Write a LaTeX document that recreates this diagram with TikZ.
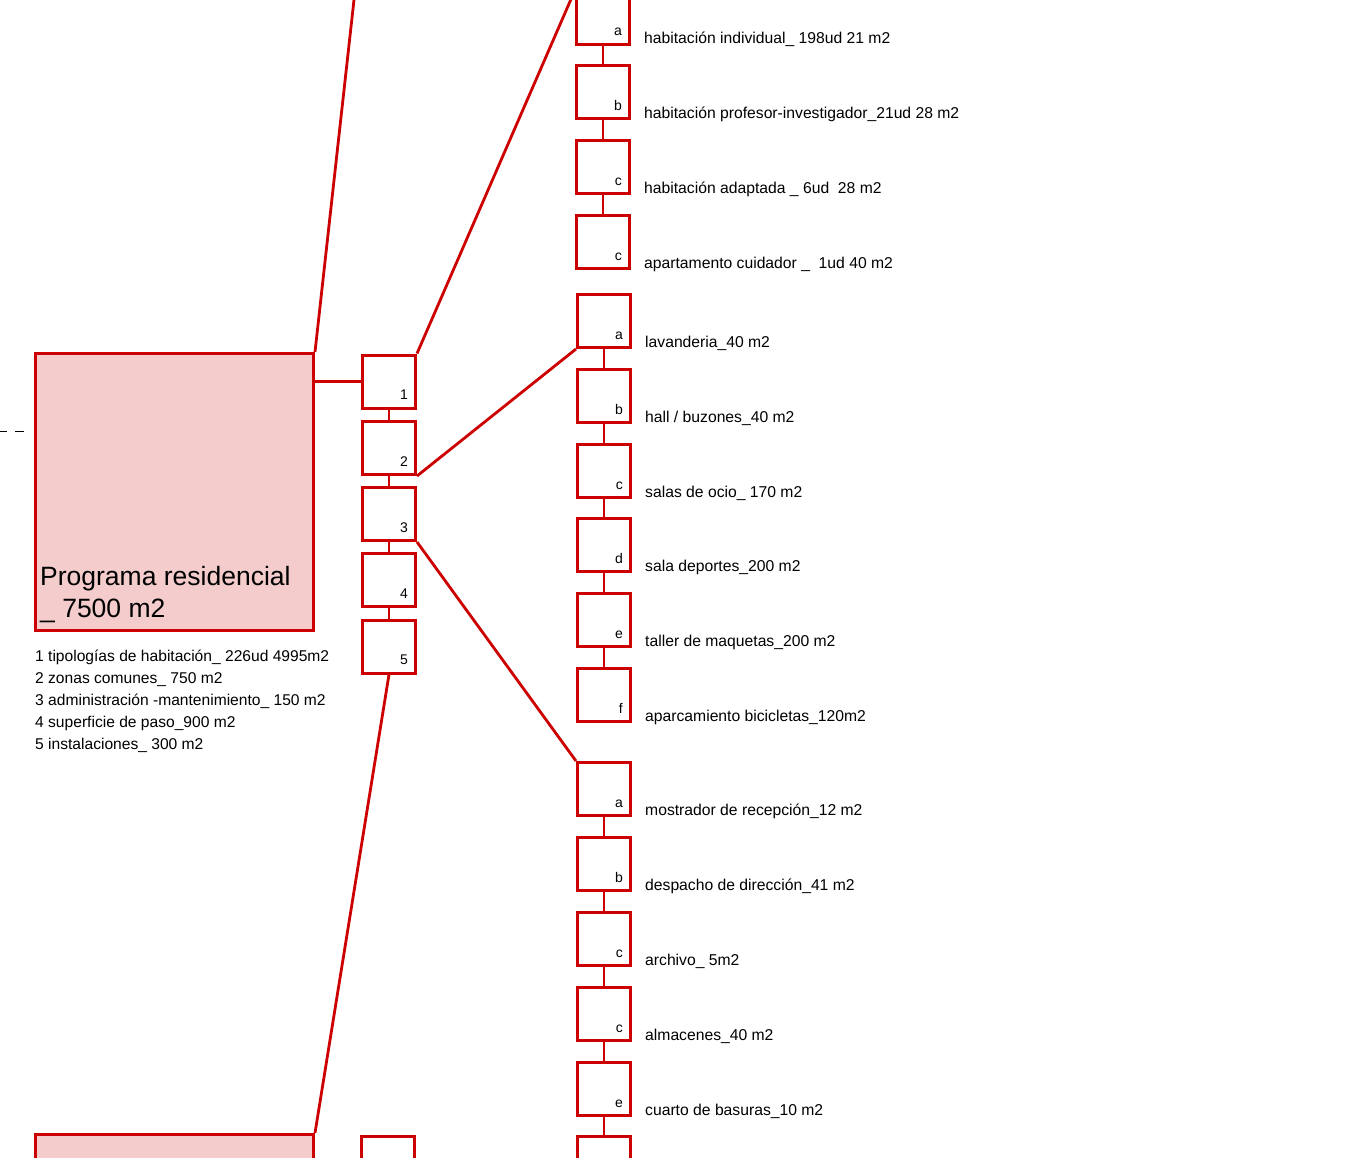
\documentclass[tikz,border=0pt]{standalone}
\usepackage{fontspec}
\setmainfont{Liberation Sans}
\definecolor{progred}{HTML}{CC0000}
\definecolor{progfill}{HTML}{F4CCCC}

\begin{document}
\begin{tikzpicture}[x=1pt, y=-1pt,
    box/.style={draw=progred, line width=3pt, fill=white, minimum size=53pt, inner sep=0pt},
    bigbox/.style={draw=progred, line width=3pt, fill=progfill, minimum width=278pt, minimum height=277pt, inner sep=0pt},
    link/.style={draw=progred, line width=2.8pt},
    tag/.style={anchor=base east, font=\fontsize{14}{16}\selectfont, inner sep=0pt, xshift=-9pt, yshift=10pt},
    item/.style={anchor=base west, font=\fontsize{15.7}{18}\selectfont, inner sep=0pt, xshift=13pt, yshift=2pt}]
    \useasboundingbox (0,0) rectangle (1372,1158);
    \clip (0,0) rectangle (1372,1158);

    % programme boxes
    \node[bigbox] (prog) at (174.5,492) {};
    \node[bigbox] (prog2) at (174.5,1273) {};
    \node[anchor=south west, align=left, inner sep=0pt, font=\fontsize{26.5}{32}\selectfont] (progtxt)
        at ([shift={(6,-9)}]prog.south west) {Programa residencial\\\_ 7500 m2};
    \node[anchor=north west, align=left, inner sep=0pt, font=\fontsize{15.6}{22}\selectfont] (legend)
        at ([shift={(1,18)}]prog.south west) {1 tipologías de habitación\_ 226ud 4995m2\\
        2 zonas comunes\_ 750 m2\\
        3 administración -mantenimiento\_ 150 m2\\
        4 superficie de paso\_900 m2\\
        5 instalaciones\_ 300 m2};
    \coordinate (progup) at (356.2,-20);
    \coordinate (dashin) at (-2,431);
    \draw[dash pattern=on 9pt off 8pt, line width=0.8pt, shorten >=6pt] (dashin) -- (dashin -| prog.west);

    % parts 1-5
    \node[box] (s1) at (389,381.5) {};
    \node[box] (s2) at (389,448) {};
    \node[box] (s3) at (389,514) {};
    \node[box] (s4) at (389,580) {};
    \node[box] (s5) at (389,646.5) {};
    \node[box] (s6) at (388,1163) {};
    \node[tag] (s1l) at (s1.south east) {1};
    \node[tag] (s2l) at (s2.south east) {2};
    \node[tag] (s3l) at (s3.south east) {3};
    \node[tag] (s4l) at (s4.south east) {4};
    \node[tag] (s5l) at (s5.south east) {5};

    % tipologias
    \node[box] (t1) at (603,18) {};
    \node[box] (t2) at (603,92.5) {};
    \node[box] (t3) at (603,167.5) {};
    \node[box] (t4) at (603,242) {};
    \node[tag] (t1l) at (t1.south east) {a};
    \node[tag] (t2l) at (t2.south east) {b};
    \node[tag] (t3l) at (t3.south east) {c};
    \node[tag] (t4l) at (t4.south east) {c};
    \node[item] (t1t) at (t1.south east) {habitación individual\_ 198ud 21 m2};
    \node[item] (t2t) at (t2.south east) {habitación profesor-investigador\_21ud 28 m2};
    \node[item] (t3t) at (t3.south east) {habitación adaptada \_ 6ud \ 28 m2};
    \node[item] (t4t) at (t4.south east) {apartamento cuidador \_ \ 1ud 40 m2};

    % zonas comunes
    \node[box] (z1) at (604,321) {};
    \node[box] (z2) at (604,396) {};
    \node[box] (z3) at (604,471) {};
    \node[box] (z4) at (604,545) {};
    \node[box] (z5) at (604,620) {};
    \node[box] (z6) at (604,695) {};
    \node[tag] (z1l) at (z1.south east) {a};
    \node[tag] (z2l) at (z2.south east) {b};
    \node[tag] (z3l) at (z3.south east) {c};
    \node[tag] (z4l) at (z4.south east) {d};
    \node[tag] (z5l) at (z5.south east) {e};
    \node[tag] (z6l) at (z6.south east) {f};
    \node[item] (z1t) at (z1.south east) {lavanderia\_40 m2};
    \node[item] (z2t) at (z2.south east) {hall / buzones\_40 m2};
    \node[item] (z3t) at (z3.south east) {salas de ocio\_ 170 m2};
    \node[item] (z4t) at (z4.south east) {sala deportes\_200 m2};
    \node[item] (z5t) at (z5.south east) {taller de maquetas\_200 m2};
    \node[item] (z6t) at (z6.south east) {aparcamiento bicicletas\_120m2};

    % administracion - mantenimiento
    \node[box] (m1) at (604,789) {};
    \node[box] (m2) at (604,864) {};
    \node[box] (m3) at (604,939) {};
    \node[box] (m4) at (604,1014) {};
    \node[box] (m5) at (604,1089) {};
    \node[box] (m6) at (604,1163) {};
    \node[tag] (m1l) at (m1.south east) {a};
    \node[tag] (m2l) at (m2.south east) {b};
    \node[tag] (m3l) at (m3.south east) {c};
    \node[tag] (m4l) at (m4.south east) {c};
    \node[tag] (m5l) at (m5.south east) {e};
    \node[item] (m1t) at (m1.south east) {mostrador de recepción\_12 m2};
    \node[item] (m2t) at (m2.south east) {despacho de dirección\_41 m2};
    \node[item] (m3t) at (m3.south east) {archivo\_ 5m2};
    \node[item] (m4t) at (m4.south east) {almacenes\_40 m2};
    \node[item] (m5t) at (m5.south east) {cuarto de basuras\_10 m2};

    % connectors
    \draw[link] (prog.north east) -- (progup);
    \draw[link] (s1.west -| prog.east) -- (s1.west);
    \draw[link] (prog2.north east) -- (s5.south);
    \draw[link] (s1.south) -- (s2.north);
    \draw[link] (s2.south) -- (s3.north);
    \draw[link] (s3.south) -- (s4.north);
    \draw[link] (s4.south) -- (s5.north);
    \draw[link] (s1.north east) -- (t1.north west);
    \draw[link] (s2.south east) -- (z1.south west);
    \draw[link] (s3.south east) -- (m1.north west);
    \draw[link] (t1.south) -- (t2.north);
    \draw[link] (t2.south) -- (t3.north);
    \draw[link] (t3.south) -- (t4.north);
    \draw[link] (z1.south) -- (z2.north);
    \draw[link] (z2.south) -- (z3.north);
    \draw[link] (z3.south) -- (z4.north);
    \draw[link] (z4.south) -- (z5.north);
    \draw[link] (z5.south) -- (z6.north);
    \draw[link] (m1.south) -- (m2.north);
    \draw[link] (m2.south) -- (m3.north);
    \draw[link] (m3.south) -- (m4.north);
    \draw[link] (m4.south) -- (m5.north);
    \draw[link] (m5.south) -- (m6.north);
\end{tikzpicture}
\end{document}
